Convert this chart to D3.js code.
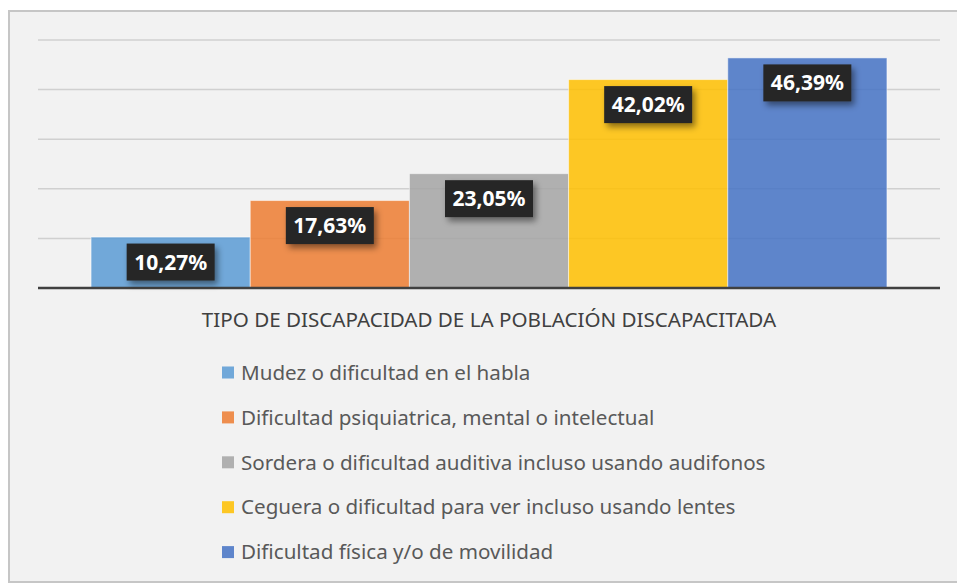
<!DOCTYPE html>
<html>
<head>
<meta charset="utf-8">
<script src="https://cdn.jsdelivr.net/npm/d3@7"></script>
<style>
  body { margin: 0; background: #fff; }
  svg { display: block; }
</style>
</head>
<body>
<svg id="chart"></svg>
<script>
// data
const categories = [
  "Mudez o dificultad en el habla",
  "Dificultad psiquiatrica, mental o intelectual",
  "Sordera o dificultad auditiva incluso usando audifonos",
  "Ceguera o dificultad para ver incluso usando lentes",
  "Dificultad física y/o de movilidad"
];
const values = [10.27, 17.63, 23.05, 42.02, 46.39];
const colors = ["#5b9bd5", "#ed7d31", "#a5a5a5", "#ffc000", "#4472c4"];
const gridTicks = [10, 20, 30, 40, 50];
const legendTitle = "TIPO DE DISCAPACIDAD DE LA POBLACIÓN DISCAPACITADA";

const width = 957, height = 583;
const font = "'Noto Sans', 'Open Sans', sans-serif";

const svg = d3.select("#chart")
  .attr("width", width)
  .attr("height", height);

// chart frame
svg.append("rect")
  .attr("x", 9).attr("y", 11)
  .attr("width", 960).attr("height", 571)
  .attr("fill", "#f2f2f2")
  .attr("stroke", "#c6c6c6")
  .attr("stroke-width", 2);

const x = d3.scaleBand()
  .domain(categories)
  .range([38, 940])
  .paddingInner(0)
  .paddingOuter(1 / 3);

const y = d3.scaleLinear().domain([0, 50]).range([288, 40]);

// gridlines
svg.append("g")
  .selectAll("line")
  .data(gridTicks)
  .join("line")
  .attr("x1", 38).attr("x2", 940)
  .attr("y1", d => y(d)).attr("y2", d => y(d))
  .attr("stroke", "#d0d0d0")
  .attr("stroke-width", 1.5);

// bars
svg.append("g")
  .selectAll("rect")
  .data(values)
  .join("rect")
  .attr("x", (d, i) => x(categories[i]))
  .attr("y", d => y(d))
  .attr("width", x.bandwidth())
  .attr("height", d => y(0) - y(d))
  .attr("fill", (d, i) => colors[i])
  .attr("fill-opacity", 0.85)
  .attr("stroke", "#ffffff")
  .attr("stroke-opacity", 0.5)
  .attr("stroke-width", 1);

// baseline
svg.append("line")
  .attr("x1", 38).attr("x2", 940)
  .attr("y1", y(0)).attr("y2", y(0))
  .attr("stroke", "#404040")
  .attr("stroke-width", 2.5);

// shadow filter for the labels
const defs = svg.append("defs");
const shadow = defs.append("filter")
  .attr("id", "shadow")
  .attr("x", "-20%").attr("y", "-20%")
  .attr("width", "150%").attr("height", "170%");
shadow.append("feDropShadow")
  .attr("dx", 3).attr("dy", 4)
  .attr("stdDeviation", 3)
  .attr("flood-color", "#000")
  .attr("flood-opacity", 0.45);

// data labels
const labels = svg.append("g")
  .selectAll("g")
  .data(values)
  .join("g")
  .attr("transform", (d, i) =>
    "translate(" + (x(categories[i]) + x.bandwidth() / 2) + "," + (y(d) + 25) + ")");

labels.append("rect")
  .attr("x", -44).attr("y", -18.5)
  .attr("width", 88).attr("height", 37)
  .attr("fill", "#262626")
  .attr("filter", "url(#shadow)");

labels.append("text")
  .attr("text-anchor", "middle")
  .attr("dy", "0.36em")
  .attr("fill", "#fff")
  .style("font-family", font)
  .style("font-weight", "bold")
  .style("font-size", "21px")
  .text(d => d.toFixed(2).replace(".", ",") + "%");

// legend
svg.append("text")
  .attr("x", 489).attr("y", 326.5)
  .attr("text-anchor", "middle")
  .attr("fill", "#404040")
  .style("font-family", font)
  .style("font-size", "20.6px")
  .text(legendTitle);

const legend = svg.append("g")
  .selectAll("g")
  .data(categories)
  .join("g")
  .attr("transform", (d, i) => "translate(222," + (372.5 + i * 44.9) + ")");

legend.append("rect")
  .attr("x", 0).attr("y", -6)
  .attr("width", 12).attr("height", 12)
  .attr("fill", (d, i) => colors[i])
  .attr("fill-opacity", 0.85);

legend.append("text")
  .attr("x", 19)
  .attr("dy", "0.35em")
  .attr("fill", "#595959")
  .style("font-family", font)
  .style("font-size", "20.6px")
  .text(d => d);
</script>
</body>
</html>
